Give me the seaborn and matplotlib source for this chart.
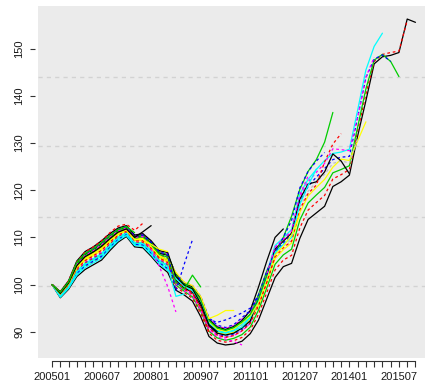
import pandas as pd
import matplotlib
matplotlib.use("Agg")
import matplotlib.pyplot as plt
import seaborn as sns

# Successive releases of a quarterly price index (200501 = 100).
# Each list runs from 200501 to the release quarter in its name.
v201601 = [100, 97.2, 99.0, 101.7, 103.2, 104.2, 105.2, 107.2, 109.0, 110.2,
           108.0, 107.8, 106.0, 104.0, 102.6, 98.8, 97.8, 96.5, 93.2, 89.0,
           87.6, 87.2, 87.4, 88.0, 89.6, 92.5, 97.0, 101.5, 103.8, 104.5,
           109.8, 113.8, 115.2, 116.6, 120.8, 121.8, 123.2, 131.5, 139.0, 146.8,
           148.3, 148.6, 149.2, 156.3, 155.6]
v201510 = [100, 97.4, 99.3, 102.2, 103.8, 104.8, 105.8, 107.7, 109.5, 110.5,
           108.4, 108.3, 106.5, 104.5, 103.2, 99.4, 98.3, 97.1, 93.9, 89.7,
           88.2, 87.8, 88.1, 88.8, 90.4, 93.7, 98.3, 103.1, 105.2, 106.2,
           112.0, 115.8, 117.4, 118.9, 122.4, 123.3, 124.4, 132.6, 140.4, 147.3,
           148.8, 149.2, 149.5, 156.0]
v201507 = [100, 97.6, 99.5, 102.7, 104.3, 105.3, 106.4, 108.3, 109.9, 110.9,
           108.8, 108.7, 107.0, 105.0, 103.9, 99.9, 98.6, 97.4, 94.4, 90.1,
           88.7, 88.2, 88.6, 89.4, 91.0, 94.6, 99.3, 104.3, 106.3, 107.5,
           113.7, 117.3, 119.0, 120.6, 123.7, 124.4, 125.2, 133.4, 141.5, 147.6,
           148.8, 147.3, 144.1]
v201504 = [100, 97.7, 99.7, 103.0, 104.7, 105.7, 106.8, 108.6, 110.2, 111.1,
           109.0, 109.0, 107.3, 105.3, 104.3, 100.7, 99.2, 98.2, 95.4, 91.0,
           89.5, 89.0, 89.5, 90.5, 92.0, 96.7, 101.6, 107.1, 108.8, 110.5,
           117.5, 120.8, 122.8, 124.6, 126.5, 127.0, 127.2, 135.4, 143.9, 147.8,
           148.7, 147.3]
v201501 = [100, 97.7, 99.6, 102.9, 104.5, 105.5, 106.6, 108.5, 110.1, 111.0,
           108.9, 108.9, 107.2, 105.1, 104.1, 100.9, 99.3, 98.4, 95.6, 91.3,
           89.7, 89.3, 89.7, 90.8, 92.3, 97.6, 102.5, 108.3, 109.9, 111.7,
           119.2, 122.3, 124.4, 126.3, 127.8, 128.1, 128.7, 137.0, 145.5, 150.5,
           153.3]
v201410 = [100, 97.8, 99.8, 103.2, 104.9, 105.9, 107.0, 108.8, 110.4, 111.2,
           109.1, 109.2, 107.5, 105.4, 104.5, 100.5, 99.0, 98.0, 95.1, 90.8,
           89.3, 88.8, 89.2, 90.2, 91.8, 97.3, 102.2, 107.9, 109.6, 111.3,
           118.6, 121.8, 123.8, 125.7, 128.8, 128.6, 128.4, 135.5, 144.0, 148.2]
v201407 = [100, 97.9, 99.9, 103.4, 105.1, 106.1, 107.3, 109.0, 110.5, 111.4,
           109.3, 109.3, 107.7, 105.6, 104.7, 101.1, 99.5, 98.5, 95.8, 91.5,
           89.9, 89.5, 89.9, 91.0, 92.6, 95.5, 100.3, 105.5, 107.4, 108.8,
           115.3, 118.8, 120.6, 122.3, 124.9, 126.6, 126.3, 130.5, 134.5]
v201404 = [100, 97.9, 100.0, 103.5, 105.3, 106.3, 107.5, 109.2, 110.7, 111.5,
           109.4, 109.5, 107.8, 105.8, 104.9, 101.3, 99.6, 98.7, 96.1, 91.7,
           90.1, 89.7, 90.2, 91.3, 92.8, 96.1, 100.9, 106.3, 108.1, 109.6,
           116.4, 119.8, 121.7, 123.4, 125.7, 126.2, 125.8, 131.0]
v201401 = [100, 98.0, 100.1, 103.7, 105.5, 106.5, 107.7, 109.4, 110.8, 111.6,
           109.5, 109.6, 108.0, 105.9, 105.1, 100.9, 99.3, 98.4, 95.6, 91.3,
           89.7, 89.3, 89.7, 90.8, 92.3, 97.0, 101.9, 107.5, 109.2, 110.9,
           118.1, 121.3, 121.8, 123.9, 127.7, 126.2, 123.5]
v201310 = [100, 98.1, 100.3, 104.0, 105.9, 106.9, 108.1, 109.7, 111.1, 111.8,
           109.8, 109.9, 108.3, 106.2, 105.5, 101.7, 99.9, 99.1, 96.6, 92.2,
           90.5, 90.1, 90.6, 91.9, 93.4, 95.8, 100.6, 105.9, 107.8, 109.2,
           115.9, 119.3, 121.1, 126.0, 129.8, 132.0]
v201307 = [100, 98.0, 100.2, 103.8, 105.7, 106.7, 107.9, 109.5, 111.0, 111.7,
           109.6, 109.8, 108.1, 106.1, 105.3, 102.0, 100.1, 99.3, 96.8, 92.4,
           90.8, 90.3, 90.9, 92.1, 93.7, 97.9, 102.9, 106.5, 110.0, 114.5,
           120.2, 124.0, 126.5, 130.2, 136.5]
v201304 = [100, 98.2, 100.4, 104.2, 106.1, 107.1, 108.3, 109.9, 111.3, 111.9,
           109.9, 110.1, 108.5, 106.4, 105.8, 102.2, 100.2, 99.5, 97.0, 92.6,
           92.0, 92.5, 93.2, 94.0, 95.0, 97.8, 102.8, 106.8, 110.0, 113.6,
           120.5, 124.0, 126.2, 128.0]
v201301 = [100, 97.5, 99.4, 102.4, 104.0, 105.0, 106.0, 107.9, 109.6, 110.7,
           108.5, 108.4, 106.7, 104.6, 103.4, 101.5, 99.8, 98.9, 96.3, 91.9,
           90.3, 89.9, 90.4, 91.6, 93.1, 96.4, 101.2, 106.7, 108.5, 110.0,
           117.0, 121.0, 124.5]
v201210 = [100, 98.2, 100.4, 104.3, 106.2, 107.2, 108.5, 110.1, 111.4, 112.0,
           110.0, 110.2, 108.6, 106.6, 106.0, 102.4, 100.4, 99.6, 97.3, 92.8,
           91.2, 90.7, 91.3, 92.7, 94.2, 97.3, 102.2, 107.9, 109.6, 111.3,
           119.0, 123.0]
v201207 = [100, 98.0, 100.0, 103.6, 105.4, 106.4, 107.6, 109.3, 110.7, 111.5,
           109.5, 109.5, 107.9, 105.9, 105.0, 101.7, 99.9, 99.1, 96.6, 92.2,
           90.5, 90.1, 90.6, 91.9, 93.4, 96.1, 100.9, 106.3, 108.1, 110.5,
           115.0]
v201201 = [100, 98.3, 100.5, 104.5, 106.4, 107.4, 108.7, 110.3, 111.6, 112.2,
           110.1, 110.4, 108.8, 106.7, 106.2, 102.2, 100.2, 99.5, 97.0, 92.6,
           91.0, 90.5, 91.1, 92.4, 94.5, 99.5, 105.0, 110.0, 111.8]
v201110 = [100, 97.7, 99.6, 102.9, 104.5, 105.5, 106.6, 108.5, 110.1, 111.0,
           108.9, 108.9, 107.2, 105.1, 104.1, 100.5, 99.0, 98.0, 95.1, 90.8,
           89.3, 88.8, 89.2, 90.2, 91.8, 95.5, 100.5, 106.0]
v201107 = [100, 98.4, 100.6, 104.7, 106.6, 107.6, 108.9, 110.4, 111.7, 112.3,
           110.3, 110.5, 109.0, 106.9, 106.4, 102.0, 100.1, 99.3, 96.8, 92.4,
           90.8, 90.3, 90.9, 92.1, 93.7, 97.0, 102.0]
v201104 = [100, 97.5, 99.4, 102.4, 104.0, 105.0, 106.0, 107.9, 109.6, 110.7,
           108.5, 108.4, 106.7, 104.6, 103.4, 101.8, 100.5, 99.8, 97.5, 93.0,
           91.4, 90.9, 91.5, 93.0, 94.5, 97.5]
v201101 = [100, 97.3, 99.2, 102.0, 103.6, 104.6, 105.6, 107.6, 109.3, 110.4,
           108.3, 108.1, 106.3, 104.3, 103.0, 101.3, 99.6, 98.7, 96.1, 91.7,
           90.1, 89.7, 90.2, 91.0, 93.0]
v201010 = [100, 98.4, 100.7, 104.8, 106.8, 107.8, 109.1, 110.6, 111.9, 112.4,
           110.4, 110.7, 109.1, 107.0, 106.6, 100.1, 98.7, 97.6, 94.6, 90.4,
           88.9, 88.4, 87.9, 87.2]
v201007 = [100, 98.0, 100.2, 103.8, 105.7, 106.7, 107.9, 109.5, 111.0, 111.7,
           109.6, 109.8, 108.1, 106.1, 105.3, 102.6, 100.5, 99.8, 97.5, 92.8,
           93.5, 94.5, 94.5]
v201001 = [100, 98.5, 100.8, 105.0, 107.0, 108.0, 109.3, 110.8, 112.0, 112.5,
           110.5, 110.8, 109.3, 107.2, 106.8, 101.7, 99.9, 99.1, 96.0, 91.5,
           90.0]
v200910 = [100, 97.9, 99.9, 103.4, 105.1, 106.1, 107.3, 109.0, 110.5, 111.4,
           109.3, 109.3, 107.7, 105.6, 104.7, 100.5, 99.5, 98.3, 95.0, 90.0]
v200907 = [100, 98.2, 100.4, 104.2, 106.1, 107.1, 108.3, 109.9, 111.3, 111.9,
           109.9, 110.1, 108.5, 106.4, 105.8, 100.5, 99.0, 102.0, 99.5]
v200904 = [100, 98.4, 100.6, 104.7, 106.6, 107.6, 108.9, 110.4, 111.7, 112.3,
           110.3, 110.5, 109.0, 106.9, 106.4, 98.7, 104.3, 109.5]
v200901 = [100, 97.6, 99.5, 102.7, 104.3, 105.3, 106.4, 108.3, 109.9, 110.9,
           108.8, 108.7, 107.0, 105.0, 103.9, 97.5, 98.0]
v200810 = [100, 98.2, 100.4, 104.3, 106.2, 107.2, 108.5, 110.1, 111.4, 112.0,
           110.0, 110.2, 107.5, 103.8, 99.6, 94.2]
v200807 = [100, 98.0, 100.1, 103.7, 105.5, 106.5, 107.7, 109.4, 110.8, 111.6,
           109.5, 109.6, 108.5, 107.5, 107.0]
v200801 = [100, 98.1, 100.3, 104.0, 105.9, 106.9, 108.1, 109.7, 111.1, 111.8,
           110.0, 111.2, 112.5]
v200710 = [100, 98.5, 100.8, 104.8, 106.9, 108.0, 109.3, 111.0, 112.4, 112.8,
           111.5, 113.0]
v200707 = [100, 98.4, 100.6, 104.7, 106.6, 107.6, 108.9, 110.4, 111.7, 112.3,
           111.0]

releases = {
    "201601": v201601, "201510": v201510, "201507": v201507, "201504": v201504,
    "201501": v201501, "201410": v201410, "201407": v201407, "201404": v201404,
    "201401": v201401, "201310": v201310, "201307": v201307, "201304": v201304,
    "201301": v201301, "201210": v201210, "201207": v201207, "201201": v201201,
    "201110": v201110, "201107": v201107, "201104": v201104, "201101": v201101,
    "201010": v201010, "201007": v201007, "201001": v201001, "200910": v200910,
    "200907": v200907, "200904": v200904, "200901": v200901, "200810": v200810,
    "200807": v200807, "200801": v200801, "200710": v200710, "200707": v200707,
}

# quarter axis: 200501 ... 201601, a label every sixth quarter
x_labels = ["200501", "200607", "200801", "200907", "201101", "201207", "201401", "201507"]
label_every = 6
n_quarters = 45
y_ticks = [90, 100, 110, 120, 130, 140, 150]
ref_levels = [99.6, 114.4, 129.3, 144.1]

# base-R style colour / line-type cycle, counted back from the latest release
cycle_cols = ["black", "#FF0000", "#00CD00", "#0000FF", "#00FFFF", "#FF00FF", "#FFFF00", "#BEBEBE"]

rows = []
palette, dashes, order = {}, {}, []
for name, vals in releases.items():
    k = (n_quarters - 1) - (len(vals) - 1)
    palette[name] = cycle_cols[k % 8]
    dashes[name] = "" if k % 2 == 0 else (2.2, 2.2)
    order.append(name)
    for q, v in enumerate(vals):
        rows.append({"release": name, "quarter": q, "index": v})
df = pd.DataFrame(rows)

sns.set_theme(style="white")
plt.rcParams["font.family"] = ["Liberation Sans", "DejaVu Sans"]

W, H = 425, 384
fig = plt.figure(figsize=(W / 100, H / 100), dpi=100)
left_px, right_px, top_px, bottom_px = 37.5, 430.0, 6.0, 358.0
ax = fig.add_axes([left_px / W, 1 - bottom_px / H,
                   (right_px - left_px) / W, (bottom_px - top_px) / H])
ax.set_facecolor("#EBEBEB")

for lvl in ref_levels:
    ax.axhline(lvl, color="#D2D2D2", lw=1.0, ls=(0, (3, 3)), zorder=0.5)

sns.lineplot(data=df, x="quarter", y="index", hue="release", style="release",
             hue_order=order, style_order=order, palette=palette, dashes=dashes,
             estimator=None, sort=False, legend=False, linewidth=0.9, ax=ax)

# limits with 4% padding around the data
lo, hi = df["index"].min(), df["index"].max()
pad = 0.04 * (hi - lo)
ax.set_ylim(lo - pad, hi + pad)
ax.set_xlim(-0.04 * (n_quarters - 1), (n_quarters - 1) * 1.04)

ax.set_xticks(range(n_quarters))
ax.set_xticklabels([x_labels[i // label_every] if i % label_every == 0 else ""
                    for i in range(n_quarters)])
ax.set_yticks(y_ticks)
ax.set_yticklabels([str(t) for t in y_ticks])

for side in ("top", "right"):
    ax.spines[side].set_visible(False)
ax.spines["left"].set_position(("outward", 2))
ax.spines["left"].set_visible(False)
ax.spines["bottom"].set_position(("outward", 2))
ax.spines["bottom"].set_bounds(0, n_quarters - 1)
ax.spines["bottom"].set_color("#333333")
ax.spines["bottom"].set_linewidth(0.8)

ax.tick_params(axis="x", direction="out", length=4.3, width=0.8, color="#333333",
               pad=4, labelsize=8, labelcolor="#1a1a1a", bottom=True)
ax.tick_params(axis="y", direction="out", length=3.6, width=0.8, color="#333333",
               pad=4, labelsize=8, labelcolor="#1a1a1a", labelrotation=90, left=True)
for lab in ax.get_yticklabels():
    lab.set_verticalalignment("center")

ax.set_xlabel("")
ax.set_ylabel("")
ax.grid(False)

fig.savefig("out.png", dpi=100)
